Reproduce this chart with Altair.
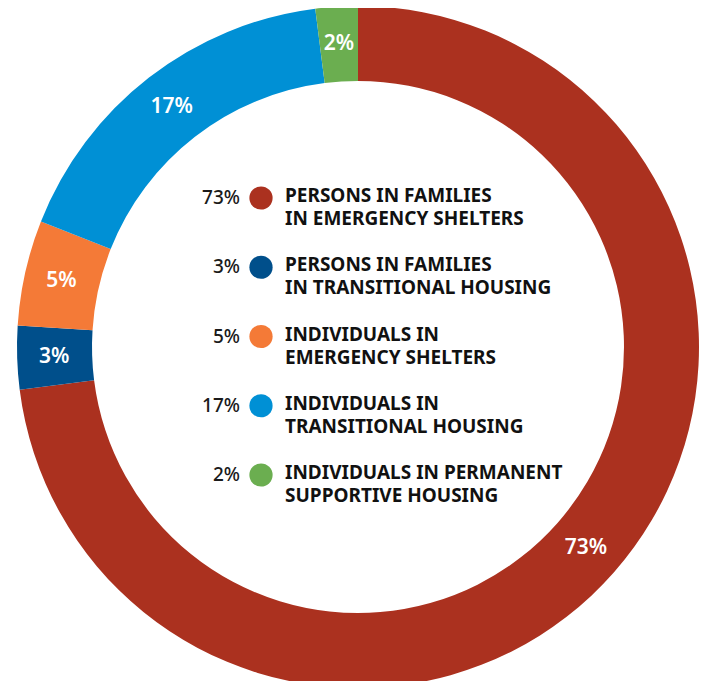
import altair as alt
import pandas as pd

categories = [
    "Persons in families in emergency shelters",
    "Persons in families in transitional housing",
    "Individuals in emergency shelters",
    "Individuals in transitional housing",
    "Individuals in permanent supportive housing",
]
values = [73, 3, 5, 17, 2]
pct_labels = ["73%", "3%", "5%", "17%", "2%"]
line1 = ["PERSONS IN FAMILIES", "PERSONS IN FAMILIES", "INDIVIDUALS IN",
         "INDIVIDUALS IN", "INDIVIDUALS IN PERMANENT"]
line2 = ["IN EMERGENCY SHELTERS", "IN TRANSITIONAL HOUSING", "EMERGENCY SHELTERS",
         "TRANSITIONAL HOUSING", "SUPPORTIVE HOUSING"]
colors = ["#AB311F", "#004F8B", "#F47A37", "#0090D5", "#6BAE50"]

df = pd.DataFrame({
    "idx": list(range(len(categories))),
    "cat": categories,
    "value": values,
    "pct": pct_labels,
    "label": [a + "\n" + b for a, b in zip(line1, line2)],
})

FONT = "Noto Sans"
CX, CY = 350, 339

color = alt.Color("cat:N", scale=alt.Scale(domain=categories, range=colors), legend=None)
theta = alt.Theta("value:Q", stack=True)
order = alt.Order("idx:Q")

base = alt.Chart(df)

arcs = base.mark_arc(outerRadius=341, innerRadius=266).encode(
    theta=theta, order=order, color=color,
    x=alt.value(CX), y=alt.value(CY),
)

ring_text = base.mark_text(radius=304, font=FONT, fontSize=21, fontWeight=600,
                           color="white").encode(
    theta=theta, order=order, text="pct:N",
    x=alt.value(CX), y=alt.value(CY),
)

ly = alt.Y("cat:N", sort=categories, axis=None,
           scale=alt.Scale(type="point", domain=categories, range=[190, 467], padding=0))

dots = base.mark_circle(size=540, opacity=1).encode(
    x=alt.value(253), y=ly, color=color,
)
pct = base.mark_text(align="right", baseline="middle", font=FONT, fontSize=19,
                     fontWeight=500, color="#1a1a1a").encode(
    x=alt.value(232), y=ly, text="pct:N",
)
labels = base.mark_text(align="left", baseline="middle", lineBreak="\n", lineHeight=23,
                        dy=-2, font=FONT, fontSize=19, fontWeight="bold",
                        color="#111111").encode(
    x=alt.value(277), y=ly, text="label:N",
)

chart = alt.layer(arcs, ring_text, dots, pct, labels).properties(
    width=693, height=673, padding=0, autosize="none",
).configure_view(stroke=None)

chart.save("out.html", embed_options={"renderer": "svg", "actions": False})
